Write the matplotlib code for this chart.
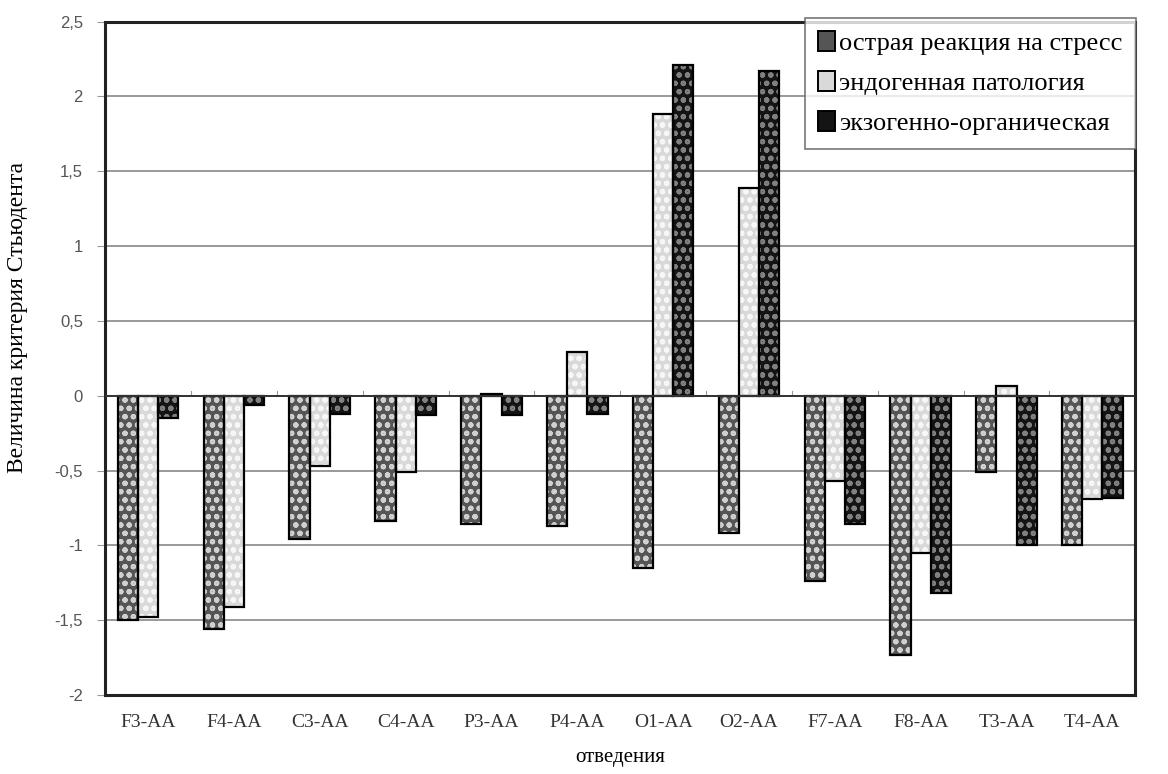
import numpy as np
import matplotlib
matplotlib.use("Agg")
import matplotlib.pyplot as plt

# leads and Student t-criterion values per group
leads = ["F3-AA", "F4-AA", "C3-AA", "C4-AA", "P3-AA", "P4-AA",
         "O1-AA", "O2-AA", "F7-AA", "F8-AA", "T3-AA", "T4-AA"]
stress = [-1.50, -1.56, -0.96, -0.84, -0.86, -0.87, -1.15, -0.92, -1.24, -1.73, -0.51, -1.00]
endo = [-1.48, -1.41, -0.47, -0.51, 0.01, 0.29, 1.88, 1.39, -0.57, -1.05, 0.065, -0.69]
exo = [-0.15, -0.06, -0.12, -0.13, -0.13, -0.12, 2.21, 2.17, -0.86, -1.32, -1.00, -0.68]

series_names = ["острая реакция на стресс", "эндогенная патология", "экзогенно-органическая"]
yticks = [-2, -1.5, -1, -0.5, 0, 0.5, 1, 1.5, 2, 2.5]

plt.rcParams["hatch.linewidth"] = 1.5

fig = plt.figure(figsize=(11.68, 7.74), dpi=100)
ax = fig.add_axes([0.09, 0.102, 0.882, 0.870])

x = np.arange(len(leads))
w = 0.235
styles = [("#555555", "#d0d0d0"), ("#d9d9d9", "#f7f7f7"), ("#141414", "#808080")]
handles = []
for i, (vals, (fc, hc)) in enumerate(zip([stress, endo, exo], styles)):
    pos = x + (i - 1) * w
    ax.bar(pos, vals, w, color=fc, edgecolor=hc, hatch="oo", linewidth=0, zorder=3)
    ax.bar(pos, vals, w, fill=False, edgecolor="black", linewidth=1.6, zorder=4)
    h = plt.Rectangle((0, 0), 1, 1, facecolor=fc, edgecolor="black", linewidth=1.4)
    handles.append(h)

ax.set_xlim(-0.5, len(leads) - 0.5)
ax.set_ylim(-2, 2.5)
ax.set_yticks(yticks)
ax.set_yticklabels([("%g" % v).replace(".", ",") for v in yticks],
                   family="Liberation Sans", fontsize=12, color="#555555")
ax.tick_params(axis="y", length=6, color="#999999", pad=10)
ax.set_xticks(x)
ax.set_xticklabels(leads, family="Liberation Serif", fontsize=14, color="#333333")
ax.tick_params(axis="x", length=0, pad=14)
ax.yaxis.grid(True, color="#888888", linewidth=1.2, zorder=0)
ax.axhline(0, color="#333333", linewidth=1.4, zorder=5)
for xb in np.arange(0.5, len(leads) - 0.5):
    ax.plot([xb, xb], [0, 0.03], color="#999999", linewidth=0.8, zorder=2)
for s in ax.spines.values():
    s.set_linewidth(2.2)
    s.set_color("#222222")

ax.set_ylabel("Величина критерия Стьюдента", family="Liberation Serif", fontsize=17)
ax.yaxis.set_label_coords(-0.075, 0.56)
ax.set_xlabel("отведения", family="Liberation Serif", fontsize=15, labelpad=12)

leg = ax.legend(handles, series_names, loc="upper left", bbox_to_anchor=(0.689, 0.977),
                bbox_transform=fig.transFigure, borderaxespad=0,
                prop={"family": "Liberation Serif", "size": 19}, frameon=True,
                fancybox=False, handlelength=0.65, handleheight=0.8, handletextpad=0.15,
                labelspacing=0.6, borderpad=0.5)
leg.get_frame().set_edgecolor("#555555")
leg.get_frame().set_linewidth(1.2)
leg.set_zorder(10)

fig.savefig("out.png", dpi=100)
